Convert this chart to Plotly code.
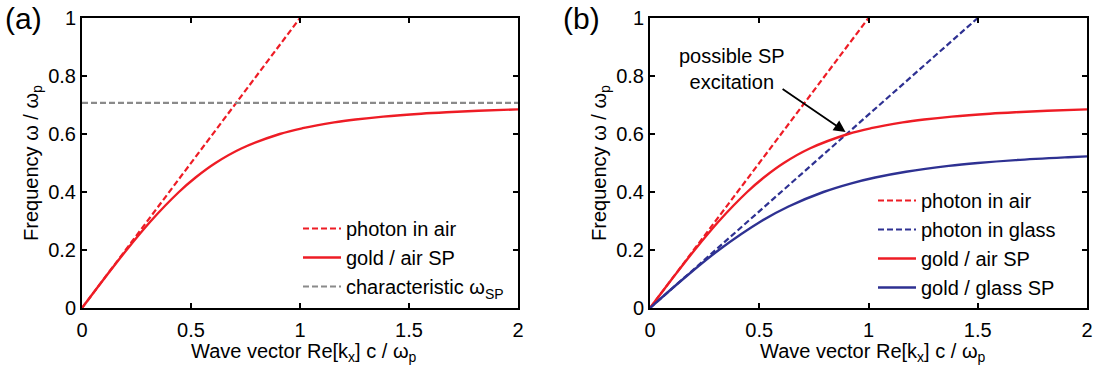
import plotly.graph_objects as go

# ---- data ----
photon_air_k = [0.0, 1.0]
photon_air_w = [0.0, 1.0]
photon_glass_k = [0.0, 1.5]
photon_glass_w = [0.0, 1.0]
omega_sp_k = [0.0, 2.0]
omega_sp_w = [0.707, 0.707]

air_sp_k = [0.0, 0.1005, 0.2043, 0.316, 0.4446, 0.521, 0.6124, 0.7309, 0.907,
            1.0117, 1.1565, 1.2547, 1.3816, 1.5559, 1.6718, 1.8182, 2.0]
air_sp_w = [0.0, 0.1, 0.2, 0.3, 0.4, 0.45, 0.5, 0.55, 0.6,
            0.62, 0.64, 0.65, 0.66, 0.67, 0.675, 0.68, 0.685]

glass_sp_k = [0.0, 0.1517, 0.3151, 0.5104, 0.6339, 0.7937, 0.9218, 1.031,
              1.1717, 1.367, 1.5, 1.6732, 1.9138, 2.0]
glass_sp_w = [0.0, 0.1, 0.2, 0.3, 0.35, 0.4, 0.43, 0.45,
              0.47, 0.49, 0.5, 0.51, 0.52, 0.523]

x_ticks = [0, 0.5, 1, 1.5, 2]
y_ticks = [0, 0.2, 0.4, 0.6, 0.8, 1]

RED = "#ee1c25"
BLUE = "#2e3192"
GRAY = "#8a8a8a"
FONT = "Liberation Sans, Arial, sans-serif"
DASH = "6px,3px"
FS = 20

fig = go.Figure()

# panel (a)
fig.add_trace(go.Scatter(x=photon_air_k, y=photon_air_w, mode="lines", name="photon in air",
                         line=dict(color=RED, width=2.2, dash=DASH), xaxis="x", yaxis="y",
                         legend="legend", legendgroup="a1"))
fig.add_trace(go.Scatter(x=air_sp_k, y=air_sp_w, mode="lines", name="gold / air SP",
                         line=dict(color=RED, width=2.4, shape="spline"), xaxis="x", yaxis="y",
                         legend="legend", legendgroup="a2"))
fig.add_trace(go.Scatter(x=omega_sp_k, y=omega_sp_w, mode="lines", name="characteristic ω<sub>SP</sub>",
                         line=dict(color=GRAY, width=2.2, dash=DASH), xaxis="x", yaxis="y",
                         legend="legend", legendgroup="a3"))

# panel (b)
fig.add_trace(go.Scatter(x=photon_air_k, y=photon_air_w, mode="lines", name="photon in air",
                         line=dict(color=RED, width=2.2, dash=DASH), xaxis="x2", yaxis="y2",
                         legend="legend2", legendgroup="b1"))
fig.add_trace(go.Scatter(x=photon_glass_k, y=photon_glass_w, mode="lines", name="photon in glass",
                         line=dict(color=BLUE, width=2.2, dash=DASH), xaxis="x2", yaxis="y2",
                         legend="legend2", legendgroup="b2"))
fig.add_trace(go.Scatter(x=air_sp_k, y=air_sp_w, mode="lines", name="gold / air SP",
                         line=dict(color=RED, width=2.4, shape="spline"), xaxis="x2", yaxis="y2",
                         legend="legend2", legendgroup="b3"))
fig.add_trace(go.Scatter(x=glass_sp_k, y=glass_sp_w, mode="lines", name="gold / glass SP",
                         line=dict(color=BLUE, width=2.4, shape="spline"), xaxis="x2", yaxis="y2",
                         legend="legend2", legendgroup="b4"))

axis_common = dict(
    showline=True, linecolor="black", linewidth=2, mirror="ticks",
    ticks="inside", ticklen=5, tickwidth=2, tickcolor="black",
    showgrid=False, zeroline=False, automargin=False,
    tickfont=dict(family=FONT, size=FS, color="black"),
)
xaxis_extra = dict(ticklabelstandoff=3)
ytitle = dict(text="Frequency ω / ω<sub>p</sub>",
              font=dict(family=FONT, size=FS, color="black"), standoff=4)
XTITLE_TEXT = "Wave vector Re[k<sub>x</sub>] c / ω<sub>p</sub>"

ydom = [1 - 308 / 367, 1 - 18 / 367]
xdom1 = [82 / 1093, 518 / 1093]
xdom2 = [650 / 1093, 1087 / 1093]

fig.update_layout(
    width=1093, height=367,
    margin=dict(l=0, r=0, t=0, b=0, autoexpand=False),
    paper_bgcolor="white", plot_bgcolor="white",
    font=dict(family=FONT, size=FS, color="black"),
    xaxis=dict(domain=xdom1, range=[0, 2], tickvals=x_ticks,
               anchor="y", **axis_common, **xaxis_extra),
    yaxis=dict(domain=ydom, range=[0, 1], tickvals=y_ticks, title=ytitle, anchor="x", **axis_common),
    xaxis2=dict(domain=xdom2, range=[0, 2], tickvals=x_ticks,
                anchor="y2", **axis_common, **xaxis_extra),
    yaxis2=dict(domain=ydom, range=[0, 1], tickvals=y_ticks, title=ytitle, anchor="x2", **axis_common),
    legend=dict(x=298 / 1093, y=1 - 209 / 367, xanchor="left", yanchor="top",
                bgcolor="rgba(0,0,0,0)", itemwidth=38, tracegroupgap=0,
                font=dict(family=FONT, size=FS, color="black")),
    legend2=dict(x=873 / 1093, y=1 - 181 / 367, xanchor="left", yanchor="top",
                 bgcolor="rgba(0,0,0,0)", itemwidth=38, tracegroupgap=0,
                 font=dict(family=FONT, size=FS, color="black")),
    showlegend=True,
)

# x-axis titles
for dom in (xdom1, xdom2):
    fig.add_annotation(text=XTITLE_TEXT, x=(dom[0] + dom[1]) / 2 + 4 / 1093, y=1 - 352 / 367,
                       xref="paper", yref="paper", xanchor="center", yanchor="middle",
                       showarrow=False, font=dict(family=FONT, size=FS, color="black"))

fig.add_annotation(text="(a)", x=3 / 1093, y=1 - 18 / 367, xref="paper", yref="paper",
                   xanchor="left", yanchor="middle", showarrow=False,
                   font=dict(family=FONT, size=30, color="black"))
fig.add_annotation(text="(b)", x=561 / 1093, y=1 - 18 / 367, xref="paper", yref="paper",
                   xanchor="left", yanchor="middle", showarrow=False,
                   font=dict(family=FONT, size=30, color="black"))

# arrow to crossing point
fig.add_annotation(x=0.895, y=0.607, ax=0.6, ay=0.759, xref="x2", yref="y2",
                   axref="x2", ayref="y2", text="", showarrow=True,
                   arrowhead=2, arrowsize=1.3, arrowwidth=1.8, arrowcolor="black")
fig.add_annotation(text="possible SP<br>excitation", x=0.376, y=0.824, xref="x2", yref="y2",
                   showarrow=False, align="center",
                   font=dict(family=FONT, size=FS, color="black"))

fig.write_html("out.html")
